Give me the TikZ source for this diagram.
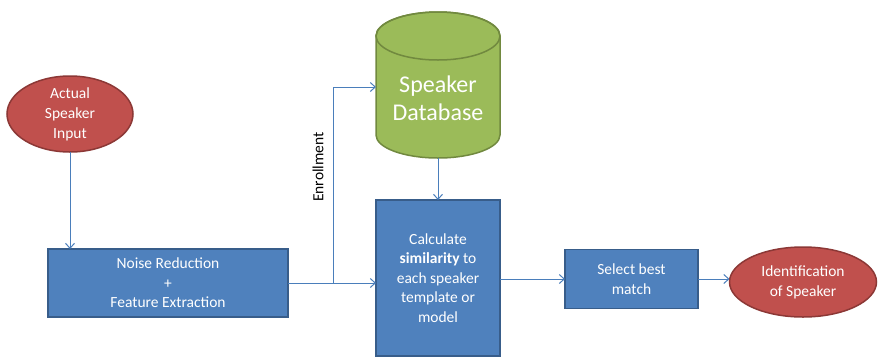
\documentclass[tikz,border=0pt]{standalone}
\usepackage{fontspec}
\setmainfont{Carlito}
\usetikzlibrary{shapes.geometric,arrows.meta}
\definecolor{boxblue}{HTML}{4F81BD}
\definecolor{boxblueD}{HTML}{385D8A}
\definecolor{ellred}{HTML}{C0504D}
\definecolor{ellredD}{HTML}{8C3836}
\definecolor{dbgreen}{HTML}{9BBB59}
\definecolor{dbgreenD}{HTML}{71893F}
\definecolor{linkblue}{HTML}{4A7EBB}
\tikzset{
  procbox/.style={rectangle, fill=boxblue, draw=boxblueD, line width=1.5pt, text=white,
    align=center, inner sep=0pt, outer sep=0pt, font=\fontsize{15.5}{19.5}\selectfont},
  termell/.style={ellipse, fill=ellred, draw=ellredD, line width=1.5pt, text=white,
    align=center, inner sep=0pt, outer sep=0pt, font=\fontsize{15.5}{20}\selectfont},
  arr/.style={draw=linkblue, line width=1pt, -{Straight Barb[length=5pt,width=9pt]}},
  plain/.style={draw=linkblue, line width=1pt}
}
\begin{document}
\begin{tikzpicture}[x=1pt,y=-1pt]
\useasboundingbox (0,0) rectangle (878,357);
% cylinder
\draw[fill=dbgreen, draw=dbgreenD, line width=1.5pt]
  (376,36) -- (376,135) arc (180:0:62 and 23) -- (500,36) arc (0:-180:62 and 24) -- cycle;
\draw[draw=dbgreenD, line width=1.5pt] (438,36) ellipse (62 and 24);
\node[rectangle, minimum width=124pt, minimum height=146pt, inner sep=0pt, outer sep=0pt] (db) at (438,85) {};
\node[text=white, align=center, font=\fontsize{24}{28}\selectfont] (dbt) at (438,98) {Speaker\\Database};

\node[termell, minimum width=126pt, minimum height=76pt] (inp) at (70,114) {Actual\\Speaker\\Input};
\node[procbox, minimum width=240pt, minimum height=68pt] (noise) at (168,283) {Noise Reduction\\+\\Feature Extraction};
\node[procbox, minimum width=124pt, minimum height=156pt] (calc) at (438,278) {Calculate\\\textbf{similarity} to\\each speaker\\template or\\model};
\node[procbox, minimum width=133pt, minimum height=59pt] (sel) at (631.5,279) {Select best\\match};
\node[termell, minimum width=147pt, minimum height=70pt] (idf) at (803,282) {Identification\\of Speaker};
\node[rotate=90, font=\fontsize{15.5}{18}\selectfont] (enr) at (318,167) {Enrollment};

\coordinate (br) at (333,283);
\coordinate (en) at (333,87);
\draw[arr] (inp.south) -- (inp.south |- noise.north);
\draw[arr] (noise.east) -- (calc.west |- noise.east);
\draw[arr] (br) -- (en) -- (en -| db.west);
\draw[arr] (db.south) -- (calc.north);
\draw[arr] (calc.east |- sel.west) -- (sel.west);
\draw[arr] (sel.east) -- (sel.east -| idf.west);
\end{tikzpicture}
\end{document}
